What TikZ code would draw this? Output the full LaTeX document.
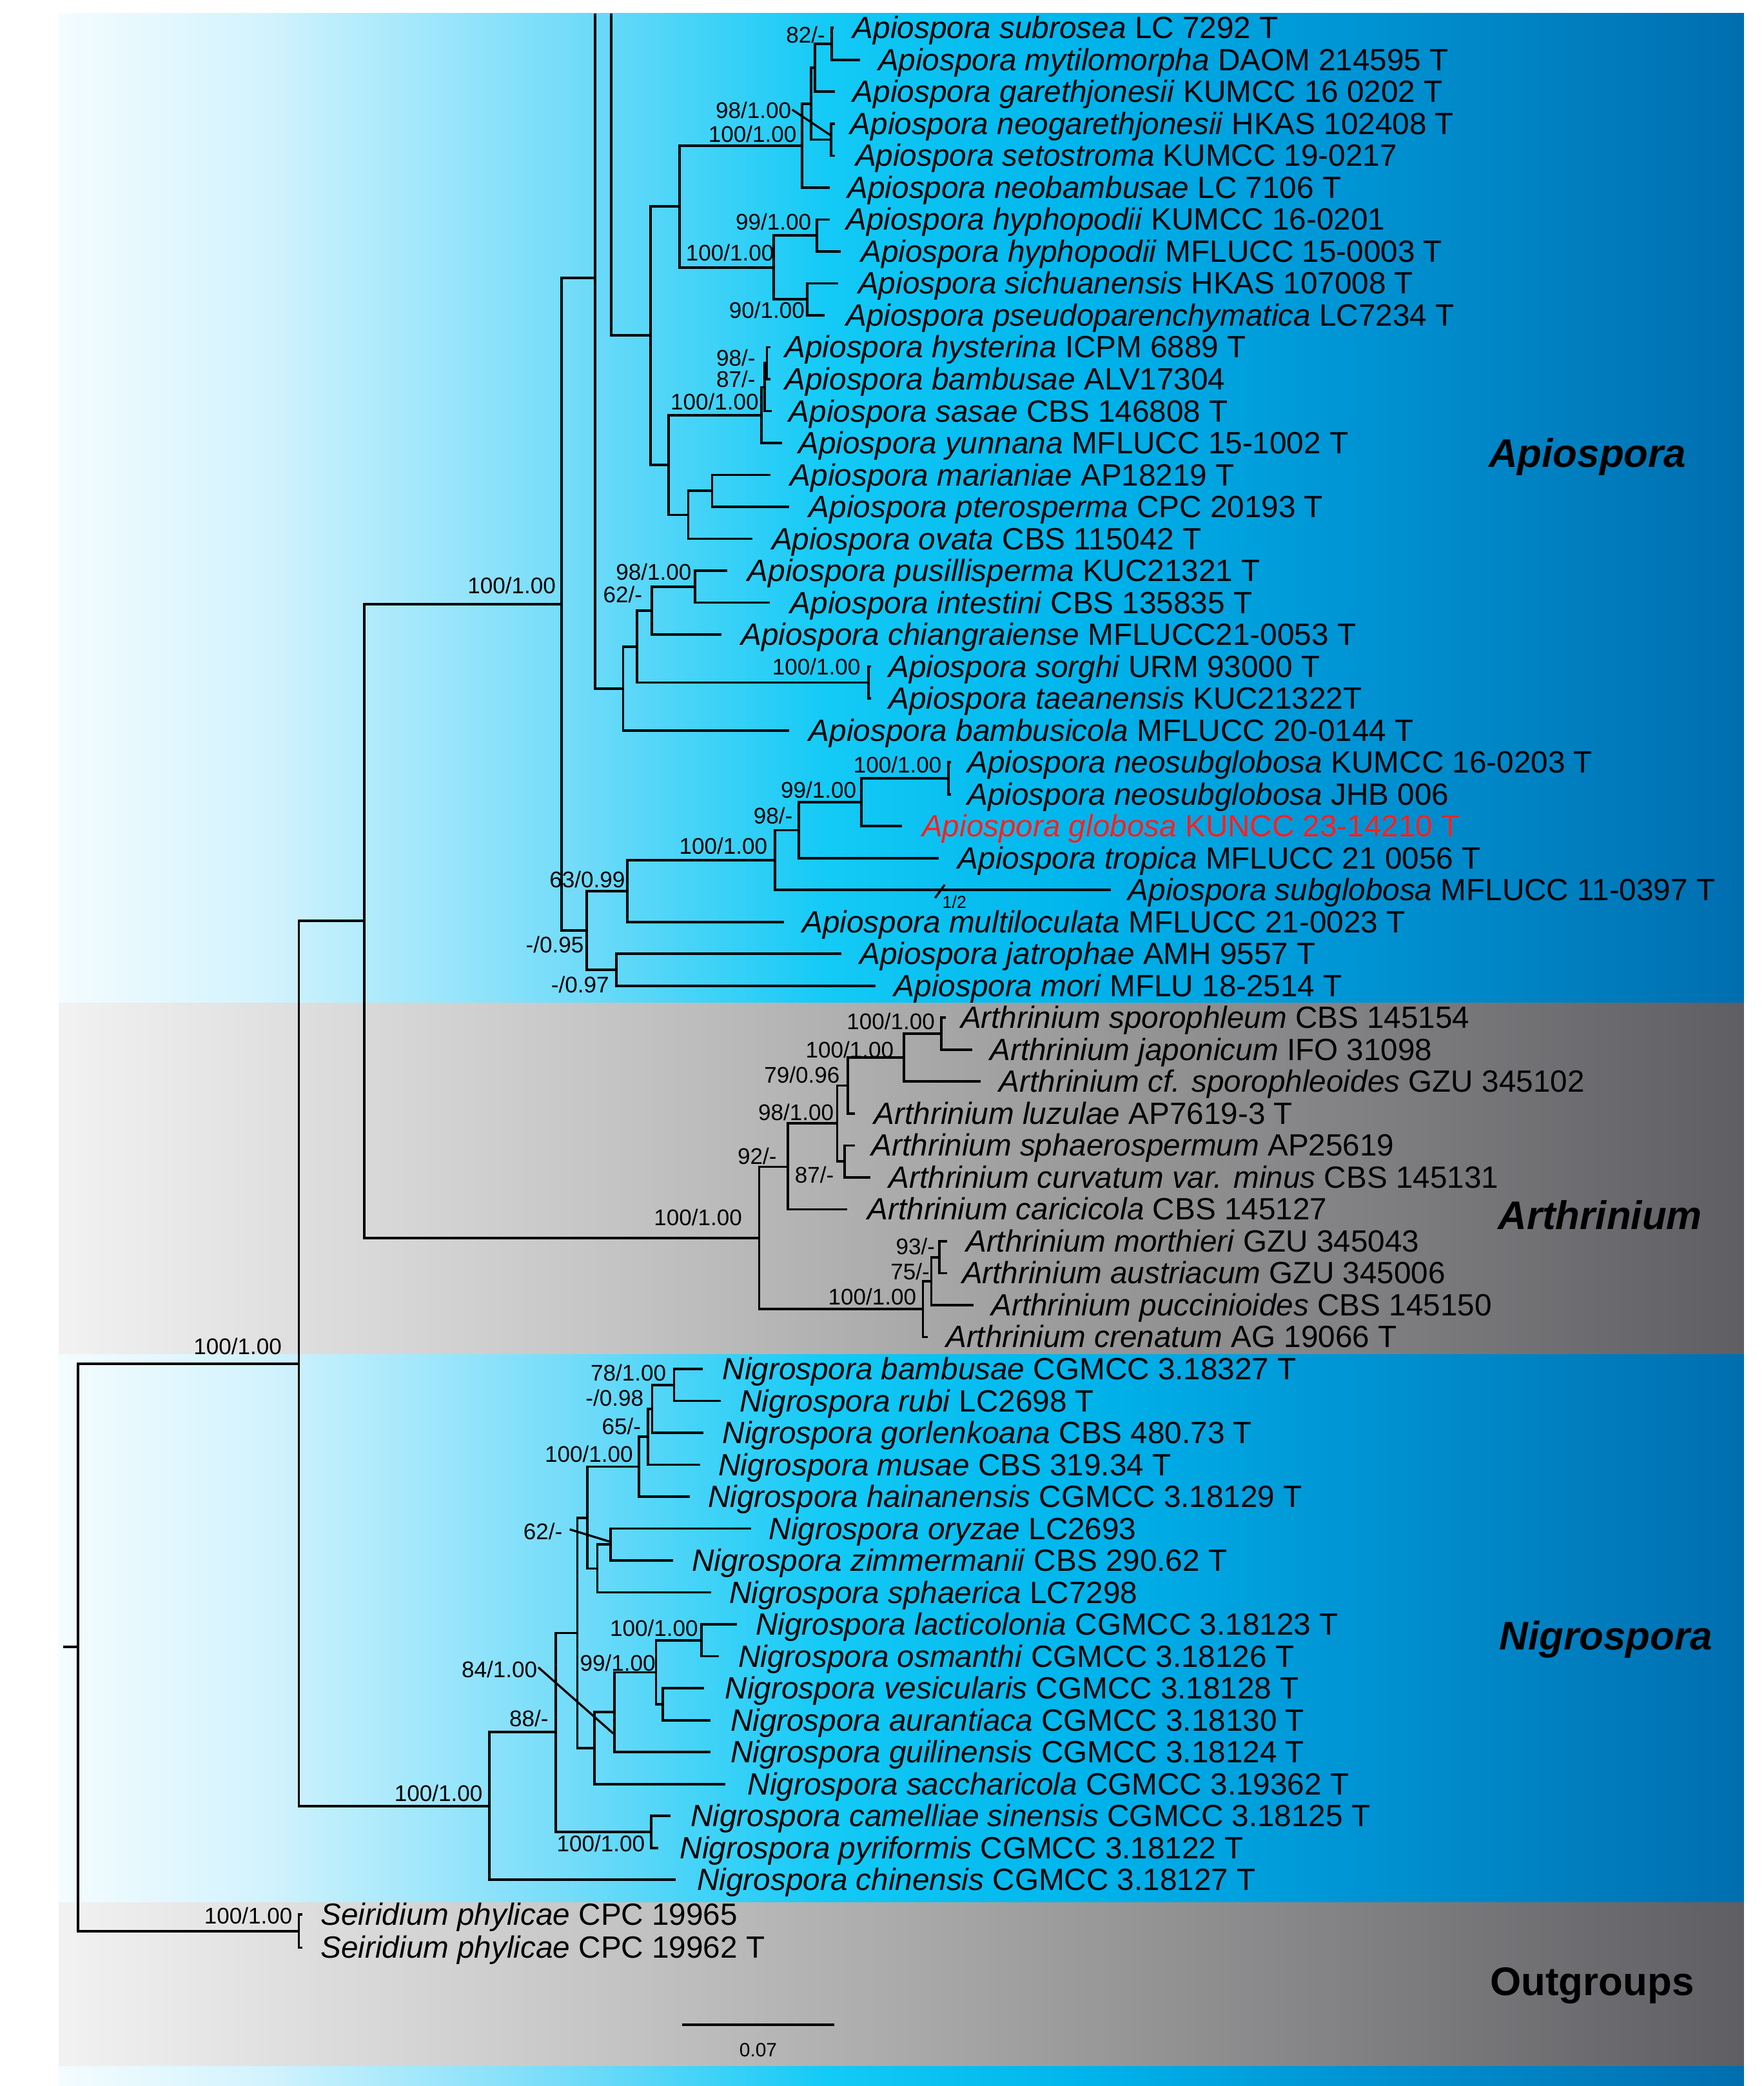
\documentclass[tikz,border=0pt]{standalone}
\usepackage{fontspec}
\setmainfont{Liberation Sans}
\definecolor{b0}{HTML}{F4FCFF}
\definecolor{b1}{HTML}{D2F3FD}
\definecolor{b2}{HTML}{70DBF9}
\definecolor{b3}{HTML}{14CAF6}
\definecolor{b4}{HTML}{00B6EC}
\definecolor{b5}{HTML}{0096D6}
\definecolor{b6}{HTML}{006EAF}
\definecolor{g0}{HTML}{F2F2F2}
\definecolor{g1}{HTML}{C4C4C4}
\definecolor{g2}{HTML}{9E9E9E}
\definecolor{g3}{HTML}{5E5E63}
\definecolor{redtax}{HTML}{FF2020}
\pgfdeclarehorizontalshading{bluegrad}{100bp}{color(0bp)=(b0); color(25bp)=(b0); color(31.15bp)=(b1); color(40.5bp)=(b2); color(47.75bp)=(b3); color(55bp)=(b4); color(62.75bp)=(b5); color(75bp)=(b6); color(100bp)=(b6)}
\pgfdeclarehorizontalshading{greygrad}{100bp}{color(0bp)=(g0); color(25bp)=(g0); color(41.5bp)=(g1); color(54bp)=(g2); color(75bp)=(g3); color(100bp)=(g3)}
\tikzset{
 br/.style={line width=1.8pt},
 lead/.style={line width=1.6pt},
 tax/.style={anchor=base west, inner sep=0pt, font=\fontsize{23.1}{26}\selectfont},
 bs/.style={anchor=base east, inner sep=0pt, font=\fontsize{17}{20}\selectfont},
 clade/.style={anchor=base west, inner sep=0pt, font=\fontsize{30}{34}\selectfont\bfseries}
}
\begin{document}
\begin{tikzpicture}[x=1pt,y=-1pt]
\useasboundingbox (0,0) rectangle (1326,1568);
\fill[white] (0,0) rectangle (1326,1568);
% panels
\shade[shading=bluegrad] (44,10) rectangle (1311,754);
\shade[shading=greygrad] (44,754) rectangle (1311,1018);
\shade[shading=bluegrad] (44,1018) rectangle (1311,1430);
\shade[shading=greygrad] (44,1430) rectangle (1311,1553);
\shade[shading=bluegrad] (44,1553) rectangle (1311,1568);

% ---------- tip coordinates ----------
\coordinate (t0) at (626.5,21);
\coordinate (t1) at (646.4,45);
\coordinate (t2) at (627.8,69);
\coordinate (t3) at (627.5,93);
\coordinate (t4) at (627.8,117);
\coordinate (t5) at (623.6,141);
\coordinate (t6) at (624,165);
\coordinate (t7) at (632,189);
\coordinate (t8) at (630,213);
\coordinate (t9) at (620,237);
\coordinate (t10) at (579,261);
\coordinate (t11) at (579,285);
\coordinate (t12) at (580,309);
\coordinate (t13) at (587.8,333);
\coordinate (t14) at (579.4,357);
\coordinate (t15) at (593.1,381);
\coordinate (t16) at (565.8,405);
\coordinate (t17) at (546.8,429);
\coordinate (t18) at (578.8,453);
\coordinate (t19) at (542.6,477);
\coordinate (t20) at (655,501);
\coordinate (t21) at (655,525);
\coordinate (t22) at (593.5,549);
\coordinate (t23) at (715,573);
\coordinate (t24) at (715,597);
\coordinate (t25) at (678.3,621);
\coordinate (t26) at (705.6,645);
\coordinate (t27) at (835,669);
\coordinate (t28) at (589.3,693);
\coordinate (t29) at (632.6,717);
\coordinate (t30) at (658.3,741);
\coordinate (t31) at (711,765);
\coordinate (t32) at (731,789);
\coordinate (t33) at (737,813);
\coordinate (t34) at (642.5,837);
\coordinate (t35) at (642.5,861);
\coordinate (t36) at (654.5,885);
\coordinate (t37) at (637,909);
\coordinate (t38) at (711.8,933);
\coordinate (t39) at (711.8,957);
\coordinate (t40) at (732,981);
\coordinate (t41) at (697.5,1005);
\coordinate (t42) at (528.5,1029);
\coordinate (t43) at (542.1,1053);
\coordinate (t44) at (528.8,1077);
\coordinate (t45) at (526.4,1101);
\coordinate (t46) at (518.4,1125);
\coordinate (t47) at (564.6,1149);
\coordinate (t48) at (505.9,1173);
\coordinate (t49) at (534.5,1197);
\coordinate (t50) at (554,1221);
\coordinate (t51) at (540.4,1245);
\coordinate (t52) at (529.3,1269);
\coordinate (t53) at (534,1293);
\coordinate (t54) at (534,1317);
\coordinate (t55) at (545.4,1341);
\coordinate (t56) at (504.2,1365);
\coordinate (t57) at (495,1389);
\coordinate (t58) at (508,1413);
\coordinate (t59) at (227.5,1439);
\coordinate (t60) at (227.5,1464);

% ---------- internal nodes ----------
\coordinate (n625) at (625.1,33);
\coordinate (n612) at (612.5,51);
\coordinate (n624b) at (624.6,105);
\coordinate (n609) at (609.6,78);
\coordinate (n602) at (602.8,109.5);
\coordinate (n614) at (614,177);
\coordinate (n607) at (606.8,225);
\coordinate (n581) at (581.5,201);
\coordinate (n511) at (511,155);
\coordinate (nZ) at (576.5,273);
\coordinate (nX) at (575,291);
\coordinate (n572) at (572.4,312);
\coordinate (n535) at (535.3,369);
\coordinate (n517) at (517.4,387);
\coordinate (n502) at (502.7,349.5);
\coordinate (n489) at (489,252);
\coordinate (top459) at (459.6,10);
\coordinate (n522) at (522.6,441);
\coordinate (n490) at (490,459);
\coordinate (n653) at (653,513);
\coordinate (n479) at (479,486);
\coordinate (nBamb) at (468.5,517.5);
\coordinate (nA447) at (447.4,209);
\coordinate (topA) at (447.4,10);
\coordinate (n713) at (713,585);
\coordinate (n647) at (647.7,603);
\coordinate (n600) at (600.5,624);
\coordinate (n582) at (582.6,646.5);
\coordinate (n471) at (471.6,670);
\coordinate (n463) at (463.2,729);
\coordinate (n441) at (441,699.5);
\coordinate (n422) at (422.3,454);
\coordinate (n708) at (707.8,777);
\coordinate (n680) at (679.7,795);
\coordinate (n637) at (637.5,816);
\coordinate (n635) at (635,873);
\coordinate (n629) at (629.4,844.5);
\coordinate (n592) at (592.3,877);
\coordinate (n706) at (706.2,945);
\coordinate (n700) at (700.2,963);
\coordinate (n694) at (693.8,984);
\coordinate (nArt) at (570.7,930.5);
\coordinate (n274) at (273.8,692);
\coordinate (n507) at (506.7,1041);
\coordinate (n490n) at (490.3,1059);
\coordinate (n487) at (487.2,1080);
\coordinate (n480) at (480.2,1102.5);
\coordinate (n459) at (459.1,1161);
\coordinate (n449) at (449,1179);
\coordinate (n441c) at (441.6,1141);
\coordinate (n527) at (527.3,1233);
\coordinate (n498) at (498.2,1281);
\coordinate (n493) at (493.2,1257);
\coordinate (n462) at (462,1287);
\coordinate (n447c) at (446.9,1314);
\coordinate (n434) at (434,1227.5);
\coordinate (n490c) at (489.7,1377);
\coordinate (n418) at (417.8,1302);
\coordinate (nNig) at (367.8,1357.5);
\coordinate (n224) at (224.6,1025);
\coordinate (nOut) at (224.6,1451.5);
\coordinate (root) at (58.6,1238);
\coordinate (stub) at (47.7,1238);

% ---------- branches ----------
\draw[br] (n625) |- (t0) (n625) |- (t1);
\draw[br] (n612) |- (n625) (n612) |- (t2);
\draw[br] (n624b) |- (t3) (n624b) |- (t4);
\draw[br] (n609) |- (n612) (n609) |- (n624b);
\draw[br] (n602) |- (n609) (n602) |- (t5);
\draw[br] (n614) |- (t6) (n614) |- (t7);
\draw[br] (n607) |- (t8) (n607) |- (t9);
\draw[br] (n581) |- (n614) (n581) |- (n607);
\draw[br] (n511) |- (n602) (n511) |- (n581);
\draw[br] (nZ) |- (t10) (nZ) |- (t11);
\draw[br] (nX) |- (nZ) (nX) |- (t12);
\draw[br] (n572) |- (nX) (n572) |- (t13);
\draw[br] (n535) |- (t14) (n535) |- (t15);
\draw[br] (n517) |- (n535) (n517) |- (t16);
\draw[br] (n502) |- (n572) (n502) |- (n517);
\draw[br] (n489) |- (n511) (n489) |- (n502);
\draw[br] (top459) |- (n489);
\draw[br] (n522) |- (t17) (n522) |- (t18);
\draw[br] (n490) |- (n522) (n490) |- (t19);
\draw[br] (n653) |- (t20) (n653) |- (t21);
\draw[br] (n479) |- (n490) (n479) |- (n653);
\draw[br] (nBamb) |- (n479) (nBamb) |- (t22);
\draw[br] (topA) |- (nBamb);
\draw[br] (n713) |- (t23) (n713) |- (t24);
\draw[br] (n647) |- (n713) (n647) |- (t25);
\draw[br] (n600) |- (n647) (n600) |- (t26);
\draw[br] (n582) |- (n600) (n582) |- (t27);
\draw[br] (n471) |- (n582) (n471) |- (t28);
\draw[br] (n463) |- (t29) (n463) |- (t30);
\draw[br] (n441) |- (n471) (n441) |- (n463);
\draw[br] (n422) |- (nA447) (n422) |- (n441);
\draw[br] (n708) |- (t31) (n708) |- (t32);
\draw[br] (n680) |- (n708) (n680) |- (t33);
\draw[br] (n637) |- (n680) (n637) |- (t34);
\draw[br] (n635) |- (t35) (n635) |- (t36);
\draw[br] (n629) |- (n637) (n629) |- (n635);
\draw[br] (n592) |- (n629) (n592) |- (t37);
\draw[br] (n706) |- (t38) (n706) |- (t39);
\draw[br] (n700) |- (n706) (n700) |- (t40);
\draw[br] (n694) |- (n700) (n694) |- (t41);
\draw[br] (nArt) |- (n592) (nArt) |- (n694);
\draw[br] (n274) |- (n422) (n274) |- (nArt);
\draw[br] (n507) |- (t42) (n507) |- (t43);
\draw[br] (n490n) |- (n507) (n490n) |- (t44);
\draw[br] (n487) |- (n490n) (n487) |- (t45);
\draw[br] (n480) |- (n487) (n480) |- (t46);
\draw[br] (n459) |- (t47) (n459) |- (t48);
\draw[br] (n449) |- (n459) (n449) |- (t49);
\draw[br] (n441c) |- (n480) (n441c) |- (n449);
\draw[br] (n527) |- (t50) (n527) |- (t51);
\draw[br] (n498) |- (t52) (n498) |- (t53);
\draw[br] (n493) |- (n527) (n493) |- (n498);
\draw[br] (n462) |- (n493) (n462) |- (t54);
\draw[br] (n447c) |- (n462) (n447c) |- (t55);
\draw[br] (n434) |- (n441c) (n434) |- (n447c);
\draw[br] (n490c) |- (t56) (n490c) |- (t57);
\draw[br] (n418) |- (n434) (n418) |- (n490c);
\draw[br] (nNig) |- (n418) (nNig) |- (t58);
\draw[br] (n224) |- (n274) (n224) |- (nNig);
\draw[br] (nOut) |- (t59) (nOut) |- (t60);
\draw[br] (root) |- (n224) (root) |- (nOut);
\draw[br] (root) -- (stub);

% break mark on subglobosa branch
\coordinate (brk) at (706.6,670);
\draw[lead] (brk) ++(-3.6,5) -- ++(7.2,-10);
\node[anchor=base, inner sep=0pt, font=\fontsize{13}{15}\selectfont] (half) at (717.5,682.5) {1/2};

% ---------- taxon labels ----------
\node[tax] (L0) at (641,29) {\textit{Apiospora subrosea} LC 7292 T};
\node[tax] (L1) at (660,53) {\textit{Apiospora mytilomorpha} DAOM 214595 T};
\node[tax] (L2) at (641,77) {\textit{Apiospora garethjonesii} KUMCC 16 0202 T};
\node[tax] (L3) at (639,101) {\textit{Apiospora neogarethjonesii} HKAS 102408 T};
\node[tax] (L4) at (643,125) {\textit{Apiospora setostroma} KUMCC 19-0217};
\node[tax] (L5) at (637,149) {\textit{Apiospora neobambusae} LC 7106 T};
\node[tax] (L6) at (636,173) {\textit{Apiospora hyphopodii} KUMCC 16-0201};
\node[tax] (L7) at (647,197) {\textit{Apiospora hyphopodii} MFLUCC 15-0003 T};
\node[tax] (L8) at (645,221) {\textit{Apiospora sichuanensis} HKAS 107008 T};
\node[tax] (L9) at (636,245) {\textit{Apiospora pseudoparenchymatica} LC7234 T};
\node[tax] (L10) at (590,269) {\textit{Apiospora hysterina} ICPM 6889 T};
\node[tax] (L11) at (590,293) {\textit{Apiospora bambusae} ALV17304};
\node[tax] (L12) at (593,317) {\textit{Apiospora sasae} CBS 146808 T};
\node[tax] (L13) at (600,341) {\textit{Apiospora yunnana} MFLUCC 15-1002 T};
\node[tax] (L14) at (594,365) {\textit{Apiospora marianiae} AP18219 T};
\node[tax] (L15) at (608,389) {\textit{Apiospora pterosperma} CPC 20193 T};
\node[tax] (L16) at (580,413) {\textit{Apiospora ovata} CBS 115042 T};
\node[tax] (L17) at (562,437) {\textit{Apiospora pusillisperma} KUC21321 T};
\node[tax] (L18) at (594,461) {\textit{Apiospora intestini} CBS 135835 T};
\node[tax] (L19) at (557,485) {\textit{Apiospora chiangraiense} MFLUCC21-0053 T};
\node[tax] (L20) at (668,509) {\textit{Apiospora sorghi} URM 93000 T};
\node[tax] (L21) at (668,533) {\textit{Apiospora taeanensis} KUC21322T};
\node[tax] (L22) at (608,557) {\textit{Apiospora bambusicola} MFLUCC 20-0144 T};
\node[tax] (L23) at (727,581) {\textit{Apiospora neosubglobosa} KUMCC 16-0203 T};
\node[tax] (L24) at (727,605) {\textit{Apiospora neosubglobosa} JHB 006};
\node[tax, text=redtax] (L25) at (693,629) {\textit{Apiospora globosa} KUNCC 23-14210 T};
\node[tax] (L26) at (720,653) {\textit{Apiospora tropica} MFLUCC 21 0056 T};
\node[tax] (L27) at (848,677) {\textit{Apiospora subglobosa} MFLUCC 11-0397 T};
\node[tax] (L28) at (603,701) {\textit{Apiospora multiloculata} MFLUCC 21-0023 T};
\node[tax] (L29) at (646,725) {\textit{Apiospora jatrophae} AMH 9557 T};
\node[tax] (L30) at (672,749) {\textit{Apiospora mori} MFLU 18-2514 T};
\node[tax] (L31) at (722,773) {\textit{Arthrinium sporophleum} CBS 145154};
\node[tax] (L32) at (744,797) {\textit{Arthrinium japonicum} IFO 31098};
\node[tax] (L33) at (751,821) {\textit{Arthrinium cf. sporophleoides} GZU 345102};
\node[tax] (L34) at (657,845) {\textit{Arthrinium luzulae} AP7619-3 T};
\node[tax] (L35) at (655,869) {\textit{Arthrinium sphaerospermum} AP25619};
\node[tax] (L36) at (668,893) {\textit{Arthrinium curvatum var. minus} CBS 145131};
\node[tax] (L37) at (652,917) {\textit{Arthrinium caricicola} CBS 145127};
\node[tax] (L38) at (726,941) {\textit{Arthrinium morthieri} GZU 345043};
\node[tax] (L39) at (723,965) {\textit{Arthrinium austriacum} GZU 345006};
\node[tax] (L40) at (745,989) {\textit{Arthrinium puccinioides} CBS 145150};
\node[tax] (L41) at (711,1013) {\textit{Arthrinium crenatum} AG 19066 T};
\node[tax] (L42) at (543,1037) {\textit{Nigrospora bambusae} CGMCC 3.18327 T};
\node[tax] (L43) at (556,1061) {\textit{Nigrospora rubi} LC2698 T};
\node[tax] (L44) at (543,1085) {\textit{Nigrospora gorlenkoana} CBS 480.73 T};
\node[tax] (L45) at (540,1109) {\textit{Nigrospora musae} CBS 319.34 T};
\node[tax] (L46) at (532,1133) {\textit{Nigrospora hainanensis} CGMCC 3.18129 T};
\node[tax] (L47) at (578,1157) {\textit{Nigrospora oryzae} LC2693};
\node[tax] (L48) at (520,1181) {\textit{Nigrospora zimmermanii} CBS 290.62 T};
\node[tax] (L49) at (548,1205) {\textit{Nigrospora sphaerica} LC7298};
\node[tax] (L50) at (568,1229) {\textit{Nigrospora lacticolonia} CGMCC 3.18123 T};
\node[tax] (L51) at (555,1253) {\textit{Nigrospora osmanthi} CGMCC 3.18126 T};
\node[tax] (L52) at (545,1277) {\textit{Nigrospora vesicularis} CGMCC 3.18128 T};
\node[tax] (L53) at (549,1301) {\textit{Nigrospora aurantiaca} CGMCC 3.18130 T};
\node[tax] (L54) at (549,1325) {\textit{Nigrospora guilinensis} CGMCC 3.18124 T};
\node[tax] (L55) at (562,1349) {\textit{Nigrospora saccharicola} CGMCC 3.19362 T};
\node[tax] (L56) at (519,1373) {\textit{Nigrospora camelliae sinensis} CGMCC 3.18125 T};
\node[tax] (L57) at (511,1397) {\textit{Nigrospora pyriformis} CGMCC 3.18122 T};
\node[tax] (L58) at (524,1421) {\textit{Nigrospora chinensis} CGMCC 3.18127 T};
\node[tax] (L59) at (241,1447) {\textit{Seiridium phylicae} CPC 19965};
\node[tax] (L60) at (241,1472) {\textit{Seiridium phylicae} CPC 19962 T};

% ---------- support values ----------
\node[bs] (s1) at (620.5,32) {82/-};
\node[bs] (s2) at (595,89) {98/1.00};
\node[bs] (s3) at (599,107) {100/1.00};
\node[bs] (s4) at (610,173) {99/1.00};
\node[bs] (s5) at (582,196) {100/1.00};
\node[bs] (s6) at (605,239) {90/1.00};
\node[bs] (s7) at (568,275) {98/-};
\node[bs] (s8) at (568,291) {87/-};
\node[bs] (s9) at (570.5,308) {100/1.00};
\node[bs] (s10) at (520,436) {98/1.00};
\node[bs] (s11) at (483,453) {62/-};
\node[bs] (s12) at (647,507) {100/1.00};
\node[bs] (s13) at (708,581) {100/1.00};
\node[bs] (s14) at (644,600) {99/1.00};
\node[bs] (s15) at (596,619) {98/-};
\node[bs] (s16) at (577,642) {100/1.00};
\node[bs] (s17) at (470,667) {63/0.99};
\node[bs] (s18) at (439,716) {-/0.95};
\node[bs] (s19) at (458,746) {-/0.97};
\node[bs] (s20) at (418,446) {100/1.00};
\node[bs] (s21) at (703,774) {100/1.00};
\node[bs] (s22) at (672,795) {100/1.00};
\node[bs] (s23) at (631.5,814) {79/0.96};
\node[bs] (s24) at (627,842) {98/1.00};
\node[bs] (s25) at (584,875) {92/-};
\node[bs] (s26) at (627,889) {87/-};
\node[bs] (s27) at (558,921) {100/1.00};
\node[bs] (s28) at (703,943) {93/-};
\node[bs] (s29) at (699,962) {75/-};
\node[bs] (s30) at (689,981) {100/1.00};
\node[bs] (s31) at (212,1018) {100/1.00};
\node[bs] (s32) at (501,1038) {78/1.00};
\node[bs] (s33) at (484,1057) {-/0.98};
\node[bs] (s34) at (482,1078) {65/-};
\node[bs] (s35) at (476,1099) {100/1.00};
\node[bs] (s36) at (423,1157) {62/-};
\node[bs] (s37) at (525,1230) {100/1.00};
\node[bs] (s38) at (493,1256) {99/1.00};
\node[bs] (s39) at (404,1261) {84/1.00};
\node[bs] (s40) at (412.5,1298) {88/-};
\node[bs] (s41) at (363,1354) {100/1.00};
\node[bs] (s42) at (485,1392) {100/1.00};
\node[bs] (s43) at (220,1446) {100/1.00};

% leader lines
\coordinate (la1) at (595.5,82.4);
\coordinate (ld1) at (624.6,101.8);
\draw[lead] (la1) -- (ld1);
\coordinate (la2) at (428.3,1149.6);
\coordinate (ld2) at (458.1,1158.7);
\draw[lead] (la2) -- (ld2);
\coordinate (la3) at (404.7,1253.3);
\coordinate (ld3) at (461,1303);
\draw[lead] (la3) -- (ld3);

% ---------- clade names ----------
\node[clade] (cA) at (1119,351) {\textit{Apiospora}};
\node[clade] (cB) at (1126,924) {\textit{Arthrinium}};
\node[clade] (cC) at (1127,1240) {\textit{Nigrospora}};
\node[clade] (cD) at (1120,1500) {Outgroups};

% ---------- scale bar ----------
\coordinate (sb1) at (513,1522);
\coordinate (sb2) at (627,1522);
\draw[line width=1.6pt] (sb1) -- (sb2);
\node[anchor=base, inner sep=0pt, font=\fontsize{14.5}{16}\selectfont] (sbl) at (570,1546) {0.07};
\end{tikzpicture}
\end{document}
